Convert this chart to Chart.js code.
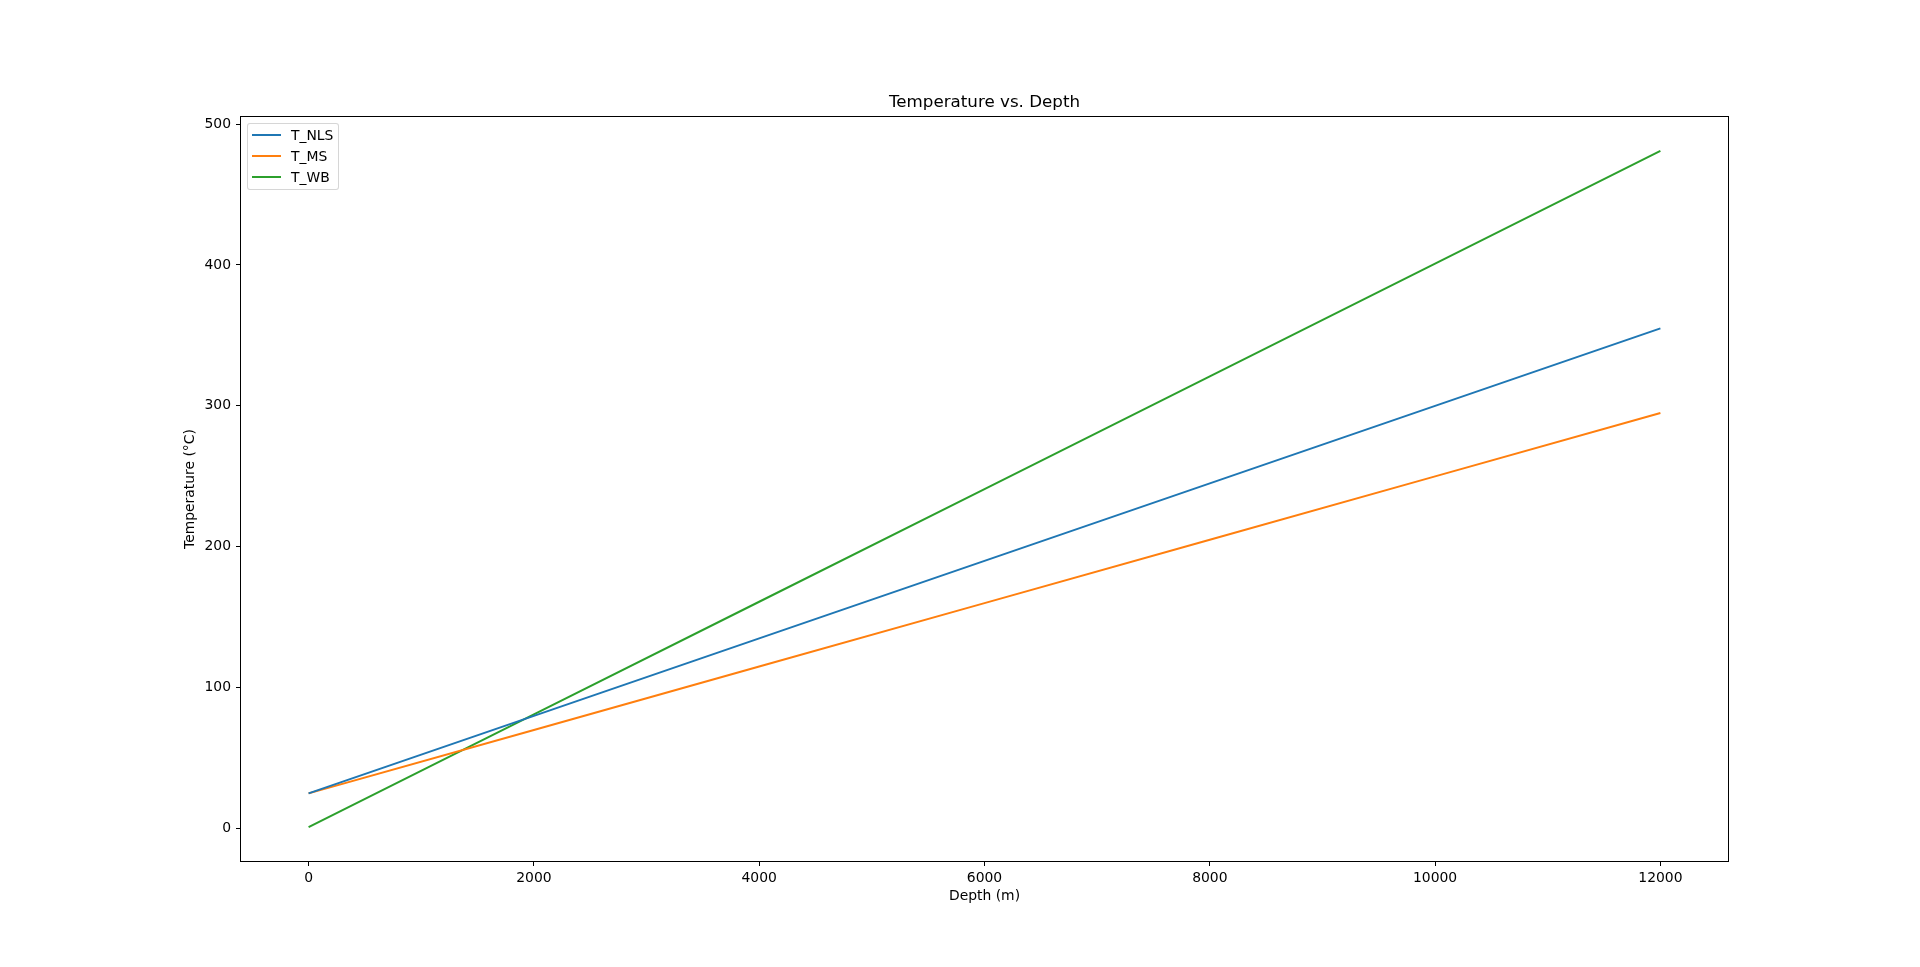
<!DOCTYPE html>
<html>
<head>
<meta charset="utf-8">
<title>Temperature vs. Depth</title>
<script src="https://cdn.jsdelivr.net/npm/chart.js@4.4.1/dist/chart.umd.min.js"></script>
<style>
  body { margin: 0; background: #fff; }
  #wrap { position: relative; width: 1920px; height: 967px; }
  #legend {
    position: absolute; left: 247px; top: 123px; width: 92px; height: 67px;
    box-sizing: border-box; border: 1px solid rgba(204, 204, 204, 0.8); border-radius: 3px;
    background: rgba(255, 255, 255, 0.8); padding: 0 0 0 4px;
    font-family: "DejaVu Sans", sans-serif; font-size: 13.9px; color: #000;
  }
  .item { display: flex; align-items: center; height: 21.3px; }
  .swatch { width: 29px; height: 2px; margin-right: 10px; }
</style>
</head>
<body>
<div id="wrap">
  <canvas id="tempChart" width="1920" height="967"></canvas>
  <div id="legend"></div>
</div>
<script>
// values
const depth = [0, 2000, 4000, 6000, 8000, 10000, 12000];
const tNLS = [25, 80, 135, 190, 245, 300, 355];
const tMS = [25, 70, 115, 160, 205, 250, 295];
const tWB = [1, 81, 161, 241, 321, 401, 481];

const xTicks = [0, 2000, 4000, 6000, 8000, 10000, 12000];
const yTicks = [0, 100, 200, 300, 400, 500];

const seriesNames = ['T_NLS', 'T_MS', 'T_WB'];
const seriesColors = ['#1f77b4', '#ff7f0e', '#2ca02c'];

Chart.defaults.font.family = '"DejaVu Sans", sans-serif';
Chart.defaults.color = '#000';

const toPoints = (ys) => depth.map((d, i) => ({ x: d, y: ys[i] }));

// matplotlib style box round the axes
const frame = {
  id: 'frame',
  afterDraw(chart) {
    const { ctx, chartArea: a } = chart;
    ctx.save();
    ctx.strokeStyle = '#000';
    ctx.lineWidth = 1;
    ctx.strokeRect(Math.round(a.left) - 0.5, Math.round(a.top) - 0.5,
      Math.round(a.right - a.left) + 1, Math.round(a.bottom - a.top) + 1);
    ctx.restore();
  }
};

const ctx = document.getElementById('tempChart').getContext('2d');
const chart = new Chart(ctx, {
  type: 'line',
  data: {
    datasets: [tNLS, tMS, tWB].map((ys, i) => ({
      label: seriesNames[i],
      data: toPoints(ys),
      borderColor: seriesColors[i],
      backgroundColor: seriesColors[i],
      borderWidth: 2,
      pointRadius: 0,
      tension: 0,
      fill: false,
    })),
  },
  options: {
    responsive: false,
    animation: false,
    devicePixelRatio: 1,
    layout: { padding: { top: 80, left: 170, right: 192, bottom: 60.3 } },
    plugins: {
      legend: { display: false },
      tooltip: { enabled: false },
      title: {
        display: true,
        text: 'Temperature vs. Depth',
        fullSize: false,
        font: { size: 16.7, weight: 'normal' },
        padding: { top: 12.2, bottom: 4.8 },
      },
    },
    scales: {
      x: {
        type: 'linear',
        min: -600,
        max: 12600,
        afterBuildTicks: (s) => { s.ticks = xTicks.map(v => ({ value: v })); },
        afterFit: (s) => { s.height = 45.7; },
        border: { display: false },
        grid: { drawOnChartArea: false, tickLength: 5, tickColor: '#000', tickWidth: 1 },
        ticks: { font: { size: 13.9 }, padding: 4, maxRotation: 0, callback: (v) => String(v) },
        title: { display: true, text: 'Depth (m)', font: { size: 13.9 }, padding: { top: 2, bottom: 2 } },
      },
      y: {
        type: 'linear',
        min: -23,
        max: 505,
        afterBuildTicks: (s) => { s.ticks = yTicks.map(v => ({ value: v })); },
        afterFit: (s) => { s.width = 71; },
        border: { display: false },
        grid: { drawOnChartArea: false, tickLength: 5, tickColor: '#000', tickWidth: 1 },
        ticks: { font: { size: 13.9 }, padding: 5, callback: (v) => String(v) },
        title: { display: true, text: 'Temperature (°C)', font: { size: 13.9 }, padding: { top: 12, bottom: 12 } },
      },
    },
  },
  plugins: [frame],
});

// legend drawn from the chart's own datasets
const legendBox = document.getElementById('legend');
chart.data.datasets.forEach((ds) => {
  const row = document.createElement('div');
  row.className = 'item';
  const sw = document.createElement('span');
  sw.className = 'swatch';
  sw.style.background = ds.borderColor;
  const label = document.createElement('span');
  label.textContent = ds.label;
  row.appendChild(sw);
  row.appendChild(label);
  legendBox.appendChild(row);
});
</script>
</body>
</html>
